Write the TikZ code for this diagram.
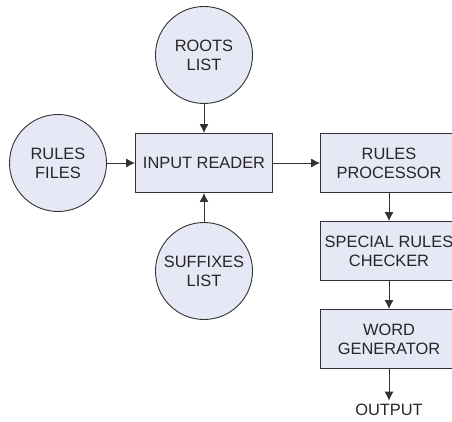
\documentclass[tikz,border=0pt]{standalone}
\usepackage{fontspec}
\setmainfont{Liberation Sans}
\usetikzlibrary{arrows.meta}

\definecolor{boxfill}{RGB}{230,233,245}
\definecolor{boxline}{RGB}{50,50,50}

\begin{document}
\begin{tikzpicture}[x=1pt,y=-1pt,
    every node/.style={font=\fontsize{16.4}{19}\selectfont,align=center,text=black!85},
    src/.style={circle,draw=boxline,line width=0.9pt,fill=boxfill,minimum size=97pt,inner sep=0pt},
    stage/.style={rectangle,draw=boxline,line width=0.9pt,fill=boxfill,minimum width=137pt,minimum height=59pt,inner sep=1pt},
    flow/.style={draw=boxline,line width=0.9pt,-{Latex[length=9pt,width=9pt]}}]
    \clip(0,0)rectangle(452,422);

    \node[src](roots)at(204,55){ROOTS\\LIST};
    \node[src](rulesfiles)at(58,163){RULES\\FILES};
    \node[src](suffixes)at(204,271){SUFFIXES\\LIST};
    \node[stage](reader)at(204,163){INPUT READER};

    \node[stage](processor)at(389,163){RULES\\PROCESSOR};
    \node[stage](checker)at(389,251){SPECIAL RULES\\CHECKER};
    \node[stage](generator)at(389,339){WORD\\GENERATOR};
    \node(output)at(389,410){OUTPUT};

    \draw[flow](roots)--(reader);
    \draw[flow](rulesfiles)--(reader);
    \draw[flow](suffixes)--(reader);
    \draw[flow](reader)--(processor);
    \draw[flow](processor)--(checker);
    \draw[flow](checker)--(generator);
    \draw[flow](generator)--(output);
\end{tikzpicture}
\end{document}
